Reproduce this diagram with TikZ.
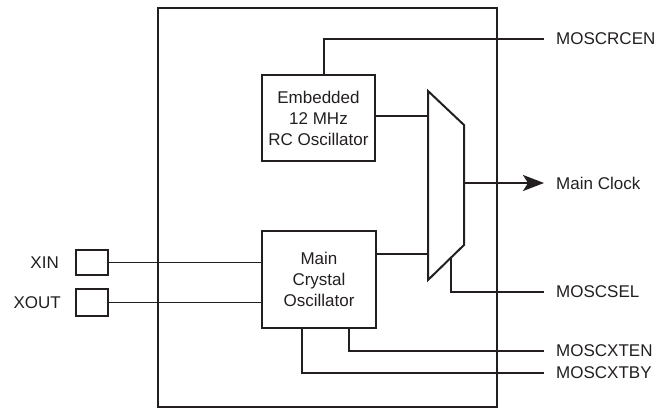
\documentclass[tikz,border=0pt]{standalone}
\usepackage{fontspec}
\setmainfont{Liberation Sans}
\usetikzlibrary{
  arrows.meta,
  positioning,
  calc
}
\definecolor{mcInk}{HTML}{231F20}
\newcommand{\mctext}{\fontsize{17}{21}\selectfont}
\tikzset{
  mcblock/.style={
    draw=mcInk, line width=2pt, inner sep=0pt, align=center,
    font=\mctext, text=mcInk
  },
  mcpad/.style={draw=mcInk, line width=2pt, minimum width=32pt, inner sep=0pt},
  mclabel/.style={font=\mctext, text=mcInk, inner ysep=0pt, inner xsep=12pt},
  pinlabel/.style={font=\mctext, text=mcInk, inner sep=0pt},
  sigline/.style={draw=mcInk, line width=2pt},
  padline/.style={draw=mcInk, line width=1pt},
  clkout/.style={sigline, -{Stealth[length=21pt, width=16pt, inset=5pt]}}
}

\begin{document}
\begin{tikzpicture}[x=1pt, y=-1pt]
  \useasboundingbox (0,0) rectangle (657,409);
  % chip outline
  \node[mcblock, minimum width=339pt, minimum height=399pt] (chip) at (327.5,207.5) {};
  % oscillators
  \node[mcblock, minimum width=113pt, minimum height=86pt] (rc) at (318.5,118)
    {Embedded\\12 MHz\\RC Oscillator};
  \node[mcblock, minimum width=114pt, minimum height=97pt] (xtal) at (319,279.5)
    {Main\\Crystal\\Oscillator};
  % pads
  \node[mcpad, minimum height=25pt] (xin) at (92,262.5) {};
  \node[mcpad, minimum height=27pt] (xout) at (92,302.5) {};
  \node[pinlabel, left=16pt of xin] (xinlbl) {XIN};
  \node[pinlabel, left=14pt of xout] (xoutlbl) {XOUT};
  % clock mux
  \coordinate (mux tl) at (428,91);
  \coordinate (mux tr) at (464,125);
  \coordinate (mux br) at (464,245);
  \coordinate (mux bl) at (428,280);
  \coordinate (mux in1) at (428,116);
  \coordinate (mux in2) at (428,254);
  \coordinate (mux out) at (464,183);
  \coordinate (mux sel) at ($(mux br)!0.36!(mux bl)$);
  \draw[sigline] (mux tl) -- (mux tr) -- (mux br) -- (mux bl) -- cycle;
  % signal labels
  \node[mclabel, anchor=west] (rcen) at (544,39) {MOSCRCEN};
  \node[mclabel, anchor=west] (mclk) at (544,183) {Main Clock};
  \node[mclabel, anchor=west] (msel) at (544,292) {MOSCSEL};
  \node[mclabel, anchor=west] (xten) at (544,351) {MOSCXTEN};
  \node[mclabel, anchor=west] (xtby) at (544,373) {MOSCXTBY};
  % connections
  \draw[sigline] ([xshift=5.5pt]rc.north) |- (rcen.west);
  \draw[sigline] (rc.east |- mux in1) -- (mux in1);
  \draw[sigline] (xtal.east |- mux in2) -- (mux in2);
  \draw[clkout] (mux out) -- (mclk.west);
  \draw[sigline] (mux sel) |- (msel.west);
  \draw[sigline] ([xshift=30pt]xtal.south) |- (xten.west);
  \draw[sigline] ([xshift=-17pt]xtal.south) |- (xtby.west);
  \draw[padline] (xin.east) -- (xin.east -| xtal.west);
  \draw[padline] (xout.east) -- (xout.east -| xtal.west);
\end{tikzpicture}
\end{document}
